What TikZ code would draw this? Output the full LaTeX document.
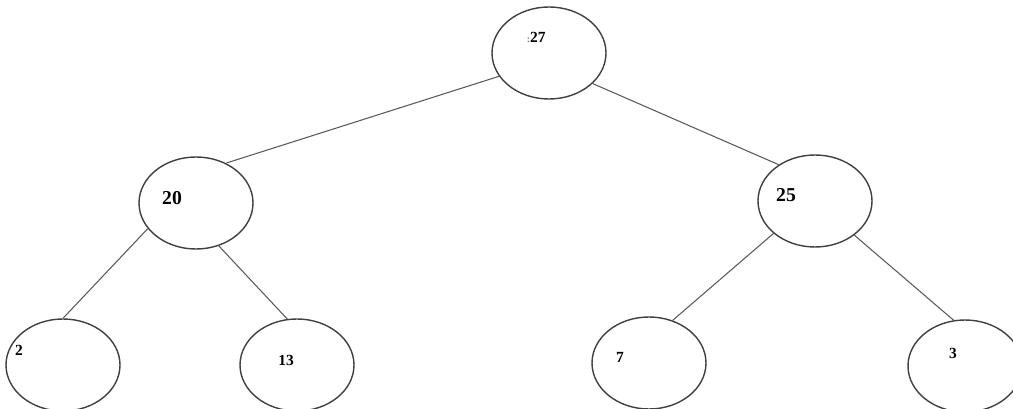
\documentclass[tikz,border=0pt]{standalone}
\usepackage{fontspec}
\setmainfont{Liberation Serif}
\usetikzlibrary{shapes.geometric}

\begin{document}
\begin{tikzpicture}[
    heapnode/.style={ellipse,draw=black!75,line width=1pt,minimum width=2.85cm,minimum height=2.3cm,inner sep=0pt},
    heapedge/.style={draw=black!65,line width=0.75pt},
    bignum/.style={font=\fontsize{14}{16}\selectfont\bfseries},
    smallnum/.style={font=\fontsize{11}{13}\selectfont\bfseries}
]
    \useasboundingbox (0,0) rectangle (25.325,-10.225);

    % root and the two inner nodes
    \node[heapnode,label={[smallnum,shift={(-0.32,0.4)}]center:{\textcolor{black!50}{\scriptsize:}27}}] (n27) at (13.725,-1.325) {};
    \node[heapnode,label={[bignum,shift={(-0.6,0.125)}]center:20}] (n20) at (4.9,-5.075) {};
    \node[heapnode,label={[bignum,shift={(-0.725,0.15)}]center:25}] (n25) at (20.375,-5.025) {};

    % leaves
    \node[heapnode,label={[smallnum,shift={(-1.1,0.375)}]center:2}] (n2) at (1.575,-9.125) {};
    \node[heapnode,label={[smallnum,shift={(-0.275,0.125)}]center:13}] (n13) at (7.425,-9.125) {};
    \node[heapnode,label={[smallnum,shift={(-0.725,0.15)}]center:7}] (n7) at (16.225,-9.075) {};
    \node[heapnode,label={[smallnum,shift={(-0.3,0.325)}]center:3}] (n3) at (24.125,-9.15) {};

    \draw[heapedge] (n27.205) -- (n20.53);
    \draw[heapedge] (n27.-35) -- (n25.135);
    \draw[heapedge] (n20.208) -- (n2.90);
    \draw[heapedge] (n20.-62) -- (n13.102);
    \draw[heapedge] (n25.218) -- (n7.61);
    \draw[heapedge] (n25.-41) -- (n3.104);
\end{tikzpicture}
\end{document}
